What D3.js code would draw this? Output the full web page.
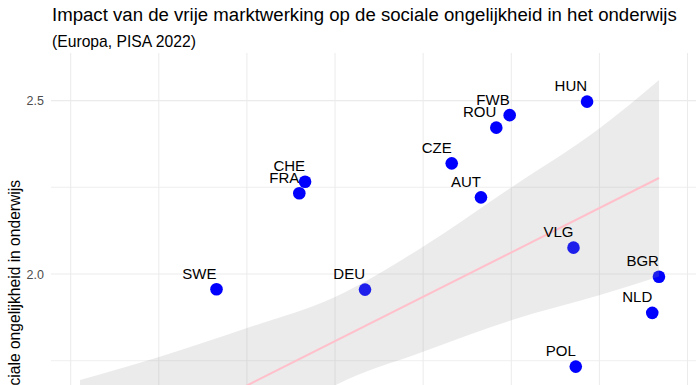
<!DOCTYPE html>
<html>
<head>
<meta charset="utf-8">
<script src="https://cdn.jsdelivr.net/npm/d3@7"></script>
<style>
  html, body { margin: 0; padding: 0; background: #fff; }
  svg { display: block; font-family: "Liberation Sans", Arial, Helvetica, sans-serif; }
</style>
</head>
<body>
<svg id="chart" width="696" height="385"></svg>
<script>
// ---- data ----
const countries = ["HUN","FWB","ROU","CZE","AUT","VLG","BGR","NLD","POL","CHE","FRA","SWE","DEU"];
const marktwerking = [1.465,1.2455,1.2075,1.081,1.164,1.4265,1.669,1.650,1.433,0.665,0.6486,0.4137,0.835];
const ongelijkheid = [2.497,2.458,2.422,2.319,2.221,2.076,1.992,1.888,1.733,2.266,2.233,1.956,1.955];

// linear fit + confidence band, read at sample positions
const smoothX     = [0.0264,0.2505,0.5002,0.7499,0.9996,1.2521,1.5018,1.6692];
const smoothUpper = [1.6943,1.7607,1.8443,1.9337,2.0787,2.2509,2.4210,2.5594];
const smoothLower = [1.1776,1.3408,1.5127,1.6788,1.7760,1.8674,1.9394,1.9928];
const fitX = [0.0264, 1.6692];
const fitY = [1.4360, 2.2768];

const xGrid = [0,0.25,0.5,0.75,1.0,1.25,1.5,1.75];
const yGrid = [1.5,1.75,2.0,2.25,2.5];
const yTicks = [2.0, 2.5];

const title = "Impact van de vrije marktwerking op de sociale ongelijkheid in het onderwijs";
const subtitle = "(Europa, PISA 2022)";
const yLabel = "sociale ongelijkheid in onderwijs";

// ---- layout ----
const svg = d3.select("#chart");
const W = 696, H = 385;
const panel = {left: 51, top: 53, right: 696, bottom: 385};

const x = d3.scaleLinear().domain([0, 1.75]).range([70.7, 687.5]);
const y = d3.scaleLinear().domain([1.75, 2.5]).range([360.7, 100.6]);

// grid
const grid = svg.append("g");
grid.selectAll("line.h").data(yGrid).join("line")
  .attr("x1", panel.left).attr("x2", panel.right)
  .attr("y1", d => y(d)).attr("y2", d => y(d))
  .attr("stroke", "#ebebeb").attr("stroke-width", d => (d*4)%2===0 ? 1.1 : 0.8);
grid.selectAll("line.v").data(xGrid).join("line")
  .attr("y1", panel.top).attr("y2", panel.bottom)
  .attr("x1", d => x(d)).attr("x2", d => x(d))
  .attr("stroke", "#ebebeb").attr("stroke-width", 1);

// y axis
const yAxis = svg.append("g")
  .attr("transform", `translate(${panel.left},0)`)
  .call(d3.axisLeft(y).tickValues(yTicks).tickFormat(d3.format(".1f")).tickSize(0).tickPadding(7));
yAxis.select(".domain").remove();
yAxis.selectAll("text").attr("fill", "#4d4d4d").attr("font-size", "12.5px")
  .attr("font-family", "Liberation Sans, Arial, sans-serif");

// points
const pts = countries.map((c, i) => ({c, x: marktwerking[i], y: ongelijkheid[i]}));
svg.append("g").selectAll("circle").data(pts).join("circle")
  .attr("cx", d => x(d.x)).attr("cy", d => y(d.y)).attr("r", 6.3)
  .attr("fill", "#0000ff");

// band
const band = smoothX.map((v, i) => ({x: v, lo: smoothLower[i], hi: smoothUpper[i]}));
svg.append("path").datum(band)
  .attr("d", d3.area().x(d => x(d.x)).y0(d => y(d.lo)).y1(d => y(d.hi)).curve(d3.curveMonotoneX))
  .attr("fill", "#999999").attr("fill-opacity", 0.2);

// fit line
svg.append("path").datum(fitX.map((v, i) => [v, fitY[i]]))
  .attr("d", d3.line().x(d => x(d[0])).y(d => y(d[1])))
  .attr("stroke", "#ffc0cb").attr("stroke-width", 2).attr("fill", "none");

// labels
svg.append("g").selectAll("text").data(pts).join("text")
  .attr("x", d => x(d.x)).attr("y", d => y(d.y) - 10.5)
  .attr("text-anchor", "end").attr("font-size", "15px").attr("fill", "#000")
  .text(d => d.c);

// y label (the reference picture is cropped, cutting the start of this text)
svg.append("text")
  .attr("transform", "translate(20,180) rotate(-90)")
  .attr("text-anchor", "end").attr("font-size", "15.6px").attr("fill", "#000")
  .text(yLabel);

// title & subtitle, fitted to the measured widths
function fitText(sel, target) {
  const w = sel.node().getComputedTextLength();
  const fs = parseFloat(sel.attr("font-size"));
  sel.attr("font-size", (fs * target / w).toFixed(2) + "px");
}
const t = svg.append("text").attr("x", 52).attr("y", 21).attr("font-size", "17px")
  .attr("fill", "#000").text(title);
fitText(t, 625);
const st = svg.append("text").attr("x", 52).attr("y", 47).attr("font-size", "14px")
  .attr("fill", "#000").text(subtitle);
fitText(st, 144);
</script>
</body>
</html>
